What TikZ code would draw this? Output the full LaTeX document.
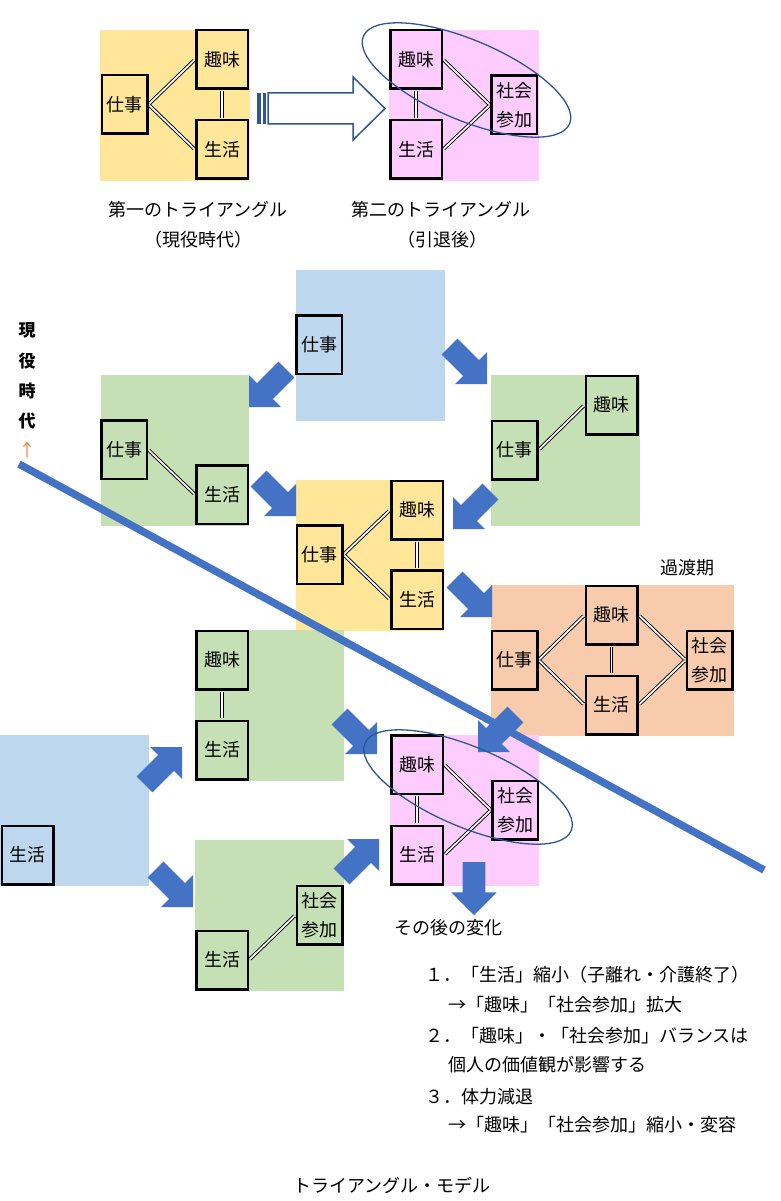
\documentclass[tikz,border=0pt]{standalone}
\usepackage{fontspec}
\setmainfont{Noto Sans CJK JP}
\definecolor{cyel}{HTML}{FFE699}
\definecolor{cpink}{HTML}{FFCCFF}
\definecolor{cblue}{HTML}{BDD7EE}
\definecolor{cgreen}{HTML}{C5E0B4}
\definecolor{cpeach}{HTML}{F8CBAD}
\definecolor{abl}{HTML}{4472C4}
\definecolor{dkb}{HTML}{2F5597}
\definecolor{corange}{HTML}{ED7D31}
\newcommand\barr[3]{\fill[abl,shift={(#1,#2)},rotate=#3] (0,0) -- (-22.6,22.6) -- (-22.6,11.3) -- (-53,11.3) -- (-53,-11.3) -- (-22.6,-11.3) -- (-22.6,-22.6) -- cycle;}
\tikzset{
  jp/.style={font=\fontsize{18}{29}\selectfont},
  bx/.style={draw, line width=2.5pt, inner sep=0pt, jp, align=center, minimum height=58.5pt},
  wbx/.style={bx, minimum width=51.5pt},
  nbx/.style={bx, minimum width=45.5pt},
  dline/.style={double, double distance=1.8pt, line width=0.9pt, shorten <=1.3pt, shorten >=1.3pt},
  ell/.style={dkb, line width=1.3pt},
  vt/.style={font=\fontsize{17}{20}\selectfont\bfseries},
}
\begin{document}
\begin{tikzpicture}[x=1pt,y=-1pt]
\useasboundingbox (0,0) rectangle (781,1201);
% backgrounds
\fill[cyel] (100,30) rectangle (250,181);
\fill[cpink] (389,30) rectangle (539,181);
\fill[cblue] (296,270) rectangle (445,421);
\fill[cgreen] (101,375) rectangle (249,526);
\fill[cgreen] (491,375) rectangle (640,526);
\fill[cyel] (296,480) rectangle (444,631);
\fill[cpeach] (491,585) rectangle (734,736);
\fill[cgreen] (195,630) rectangle (344,781);
\fill[cblue] (0,735) rectangle (149,886);
\fill[cgreen] (195,840) rectangle (344,991);
\fill[cpink] (390,735) rectangle (539,886);
% block arrows
\barr{249}{407}{225}
\barr{487}{384}{-45}
\barr{296}{516}{-45}
\barr{453}{529}{225}
\barr{492}{617}{-45}
\barr{182}{747}{45}
\barr{193}{907}{-45}
\barr{377}{754}{-45}
\barr{379}{839}{45}
\barr{478}{752}{225}
\barr{474}{915}{-90}
% top hollow arrow
\fill[dkb] (256.5,93) rectangle (260.5,124);
\fill[dkb] (262.5,93) rectangle (266,124);
\draw[dkb, line width=1.5pt, fill=white] (268,93) -- (353,93) -- (353,77) -- (385,108.5) -- (353,140) -- (353,124) -- (268,124) -- cycle;
% top triangles
\node[nbx,fill=cyel] (aw) at (124.5,104.5) {仕事};
\node[wbx,fill=cyel] (ah) at (222,59.5) {趣味};
\node[wbx,fill=cyel] (al) at (222,149.5) {生活};
\draw[dline] (aw.east) -- (ah.west);
\draw[dline] (aw.east) -- (al.west);
\draw[dline] (ah.south) -- (al.north);
\node[wbx,fill=cpink] (bh) at (416,59.5) {趣味};
\node[wbx,fill=cpink] (bl) at (416,149.5) {生活};
\node[nbx,fill=cpink] (bs) at (514,105) {社会\\参加};
\draw[dline] (bh.east) -- (bs.west);
\draw[dline] (bl.east) -- (bs.west);
\draw[dline] (bh.south) -- (bl.north);
\node[jp] (t1) at (198,210) {第一のトライアングル};
\node[jp] (t1b) at (198,240) {（現役時代）};
\node[jp] (t2) at (441,210) {第二のトライアングル};
\node[jp] (t2b) at (442,240) {（引退後）};
% vertical label
\node[vt] (v1) at (27,330) {現};
\node[vt] (v2) at (27,361) {役};
\node[vt] (v3) at (27,391) {時};
\node[vt] (v4) at (27,421) {代};
\node[font=\fontsize{17}{20}\selectfont, text=corange] (v5) at (27,450) {↑};
% middle
\node[nbx,fill=cblue] (cw) at (319,344.5) {仕事};
\node[nbx,fill=cgreen] (dw) at (124,449.5) {仕事};
\node[wbx,fill=cgreen] (dls) at (222,494.5) {生活};
\draw[dline] (dw.east) -- (dls.west);
\node[wbx,fill=cgreen] (eh) at (611.5,405) {趣味};
\node[nbx,fill=cgreen] (ew) at (514.5,450) {仕事};
\draw[dline] (ew.east) -- (eh.west);
\node[wbx,fill=cyel] (fh) at (417,510) {趣味};
\node[nbx,fill=cyel] (fw) at (319.5,554.5) {仕事};
\node[wbx,fill=cyel] (fl) at (417,599.5) {生活};
\draw[dline] (fw.east) -- (fh.west);
\draw[dline] (fw.east) -- (fl.west);
\draw[dline] (fh.south) -- (fl.north);
\node[nbx,fill=cpeach] (gw) at (514.5,660) {仕事};
\node[wbx,fill=cpeach] (gh) at (611.5,615) {趣味};
\node[wbx,fill=cpeach] (gl) at (611.5,705) {生活};
\node[nbx,fill=cpeach] (gs) at (709.5,660) {社会\\参加};
\draw[dline] (gw.east) -- (gh.west);
\draw[dline] (gw.east) -- (gl.west);
\draw[dline] (gh.east) -- (gs.west);
\draw[dline] (gl.east) -- (gs.west);
\draw[dline] (gh.south) -- (gl.north);
\node[jp] (kt) at (687,568) {過渡期};
% lower
\node[wbx,fill=cgreen] (hh) at (222,660) {趣味};
\node[wbx,fill=cgreen] (hl) at (222,750) {生活};
\draw[dline] (hh.south) -- (hl.north);
\node[wbx,fill=cblue] (il) at (27.5,855) {生活};
\node[nbx,fill=cgreen] (js) at (319.5,915) {社会\\参加};
\node[wbx,fill=cgreen] (jl) at (222,960) {生活};
\draw[dline] (jl.east) -- (js.west);
\node[wbx,fill=cpink] (kh) at (417,764.5) {趣味};
\node[wbx,fill=cpink] (kl) at (417,855) {生活};
\node[nbx,fill=cpink] (ks) at (515,810) {社会\\参加};
\draw[dline] (kh.east) -- (ks.west);
\draw[dline] (kl.east) -- (ks.west);
\draw[dline] (kh.south) -- (kl.north);
% ellipses
\draw[ell, rotate around={-23:(466.5,80)}] (466.5,80) ellipse [x radius=112, y radius=40];
\draw[ell, rotate around={-23:(468,787)}] (468,787) ellipse [x radius=112, y radius=40];
% diagonal
\coordinate (ds) at (19,464);
\coordinate (de) at (764,870);
\draw[abl, line width=7.5pt] (ds) -- (de);
% texts
\node[jp] (after) at (448,928) {その後の変化};
\node[jp, anchor=west, inner sep=0pt] (l1) at (425,975) {１．「生活」縮小（子離れ・介護終了）};
\node[jp, anchor=west, inner sep=0pt] (l2) at (448,1005) {→「趣味」「社会参加」拡大};
\node[jp, anchor=west, inner sep=0pt] (l3) at (425,1036) {２．「趣味」・「社会参加」バランスは};
\node[jp, anchor=west, inner sep=0pt] (l4) at (448,1065) {個人の価値観が影響する};
\node[jp, anchor=west, inner sep=0pt] (l5) at (425,1097) {３．体力減退};
\node[jp, anchor=west, inner sep=0pt] (l6) at (448,1125) {→「趣味」「社会参加」縮小・変容};
\node[jp] (title) at (392,1185) {トライアングル・モデル};
\end{tikzpicture}
\end{document}
